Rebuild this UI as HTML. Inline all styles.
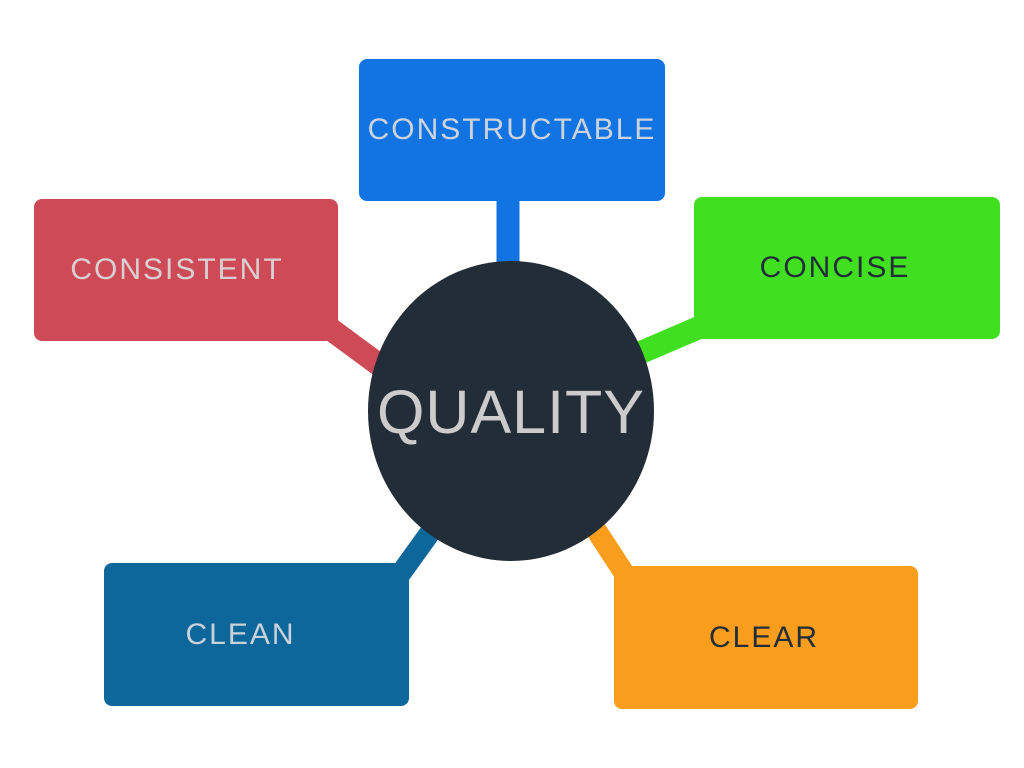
<!DOCTYPE html>
<html><head><style>
html,body{margin:0;padding:0;background:#fff;width:1024px;height:768px;overflow:hidden}
.b{position:absolute;border-radius:8px;display:flex;align-items:center;justify-content:center;font-family:"Liberation Sans",sans-serif;font-size:30px;letter-spacing:2px}
</style></head><body>
<svg width="1024" height="768" style="position:absolute;left:0;top:0">
<line x1="508" y1="190" x2="508" y2="300" stroke="#1174E2" stroke-width="23"/>
<line x1="325" y1="325" x2="420" y2="395" stroke="#CF4A57" stroke-width="23"/>
<line x1="705" y1="325" x2="600" y2="370" stroke="#40E020" stroke-width="23"/>
<line x1="396" y1="580" x2="455" y2="498" stroke="#0E679A" stroke-width="21"/>
<line x1="570" y1="490" x2="630" y2="582" stroke="#F99D1C" stroke-width="21"/>
<ellipse cx="511" cy="411" rx="143" ry="150" fill="#232D38"/>
<text x="511" y="433" text-anchor="middle" font-family="Liberation Sans, sans-serif" font-size="61" fill="#cccccc" letter-spacing="1">QUALITY</text>
</svg>
<div class="b" style="left:359px;top:59px;width:306px;height:142px;background:#1174E2;color:#cdd3dc">CONSTRUCTABLE</div>
<div class="b" style="left:34px;top:199px;width:304px;height:142px;background:#CF4A57;color:#d8d0d2;padding-right:18px;box-sizing:border-box">CONSISTENT</div>
<div class="b" style="left:694px;top:197px;width:306px;height:142px;background:#40E020;color:#232D38;padding-right:24px;box-sizing:border-box">CONCISE</div>
<div class="b" style="left:104px;top:563px;width:305px;height:143px;background:#0E679A;color:#c9d2da;padding-right:32px;box-sizing:border-box">CLEAN</div>
<div class="b" style="left:614px;top:566px;width:304px;height:143px;background:#F99D1C;color:#232D38;padding-right:4px;box-sizing:border-box">CLEAR</div>
</body></html>
